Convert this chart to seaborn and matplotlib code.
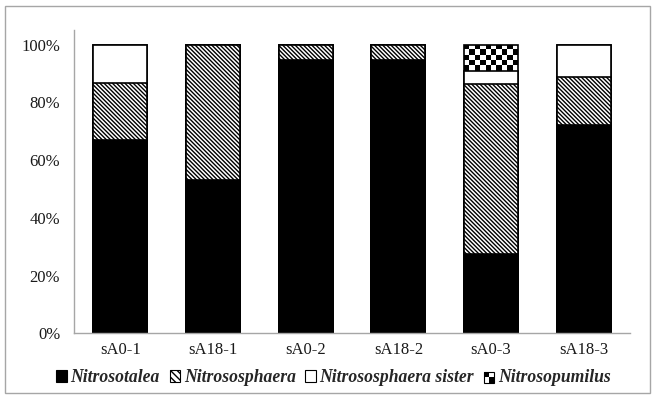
import numpy as np
import pandas as pd
import matplotlib
matplotlib.use("Agg")
import matplotlib.pyplot as plt
import seaborn as sns
from matplotlib.patches import Patch, Rectangle
from matplotlib.ticker import PercentFormatter

# --- DATA (percent of reads per sample) ---
samples = ["sA0-1", "sA18-1", "sA0-2", "sA18-2", "sA0-3", "sA18-3"]
nitrosotalea = [67.0, 53.0, 94.8, 94.5, 27.4, 72.3]
nitrososphaera = [19.7, 47.0, 5.2, 5.5, 59.1, 16.5]
nitrososphaera_sister = [13.3, 0.0, 0.0, 0.0, 4.4, 11.2]
nitrosopumilus = [0.0, 0.0, 0.0, 0.0, 9.1, 0.0]
groups = ["Nitrosotalea", "Nitrososphaera", "Nitrososphaera sister", "Nitrosopumilus"]

sns.set_theme(style="white")
plt.rcParams["font.family"] = ["Liberation Serif", "DejaVu Serif"]
plt.rcParams["hatch.linewidth"] = 1.0

HATCH = "\\" * 8

df = pd.DataFrame({
    "sample": samples,
    "Nitrosotalea": nitrosotalea,
    "Nitrososphaera": nitrososphaera,
    "Nitrososphaera sister": nitrososphaera_sister,
    "Nitrosopumilus": nitrosopumilus,
})
# cumulative tops, drawn from the top layer down so lower layers cover upper ones
cum = df[groups].cumsum(axis=1)

fig = plt.figure(figsize=(6.58, 4.01), dpi=100)
ax = fig.add_axes([0.1125, 0.1688, 0.845, 0.7562])

bar_kw = dict(width=0.58, edgecolor="black", linewidth=1.2, saturation=1, errorbar=None)
styles = {
    "Nitrosopumilus": dict(color="white"),
    "Nitrososphaera sister": dict(color="white"),
    "Nitrososphaera": dict(color="white", hatch=HATCH),
    "Nitrosotalea": dict(color="black"),
}

ax.set_ylim(0, 105)
for g in groups[::-1]:
    n_before = len(ax.patches)
    sns.barplot(x=df["sample"], y=cum[g], ax=ax, **bar_kw, **styles[g])
    if g == "Nitrosopumilus":
        # checkerboard texture, clipped to each bar that has this group
        fig.canvas.draw()
        for p, v in zip(ax.patches[n_before:], nitrosopumilus):
            if v <= 0:
                continue
            x0, w, h = p.get_x(), p.get_width(), p.get_height()
            px0 = ax.transData.transform((x0, 0))
            px1 = ax.transData.transform((x0 + w, h))
            cols = 10
            sq = (px1[0] - px0[0]) / cols
            rows = max(1, int(round((px1[1] - px0[1]) / sq)))
            board = (np.add.outer(np.arange(rows), np.arange(cols)) % 2 == 0).astype(float)
            im = ax.imshow(board, cmap="gray_r", vmin=0, vmax=1, interpolation="nearest",
                           extent=(x0, x0 + w, 0, h), origin="upper", aspect="auto",
                           zorder=p.get_zorder() - 0.1)
            im.set_clip_path(p)
            p.set_facecolor("none")

ax.set_xlim(-0.5, len(samples) - 0.5)
ax.set_ylim(0, 105)
ax.set_yticks([0, 20, 40, 60, 80, 100])
ax.yaxis.set_major_formatter(PercentFormatter(100, decimals=0))
ax.set_xlabel("")
ax.set_ylabel("")
ax.tick_params(axis="both", length=0, labelsize=12, colors="#1a1a1a")
ax.tick_params(axis="y", pad=10)
ax.tick_params(axis="x", pad=6)
for s in ["top", "right"]:
    ax.spines[s].set_visible(False)
for s in ["left", "bottom"]:
    ax.spines[s].set_color("#a6a6a6")
    ax.spines[s].set_linewidth(1.0)


class CheckerHandler:
    def legend_artist(self, legend, orig_handle, fontsize, handlebox):
        x0, y0 = handlebox.xdescent, handlebox.ydescent
        w, h = handlebox.width, handlebox.height
        tr = handlebox.get_transform()
        box = Rectangle((x0, y0), w, h, facecolor="white", edgecolor="black", lw=0.8, transform=tr)
        q1 = Rectangle((x0, y0 + h / 2), w / 2, h / 2, facecolor="black", lw=0, transform=tr)
        q2 = Rectangle((x0 + w / 2, y0), w / 2, h / 2, facecolor="black", lw=0, transform=tr)
        for a in (box, q1, q2):
            handlebox.add_artist(a)
        return box


class CheckerPatch(Patch):
    pass


handles = [
    Patch(facecolor="black", edgecolor="black", lw=0.8),
    Patch(facecolor="white", edgecolor="black", lw=0.8, hatch="\\" * 5),
    Patch(facecolor="white", edgecolor="black", lw=0.8),
    CheckerPatch(facecolor="white", edgecolor="black"),
]
fig.legend(handles, groups, loc="center", bbox_to_anchor=(0.507, 0.058), ncol=4,
           frameon=False, handlelength=0.6, handleheight=0.6, handletextpad=0.2,
           columnspacing=0.55, borderaxespad=0,
           prop=dict(family="Liberation Serif", style="italic", weight="bold", size=12.7),
           handler_map={CheckerPatch: CheckerHandler()})

# thin gray frame around the whole chart area
fig.add_artist(Rectangle((0.0076, 0.02), 0.981, 0.965, transform=fig.transFigure,
                         fill=False, edgecolor="#a6a6a6", lw=1.0))

fig.savefig("out.png", dpi=100)
